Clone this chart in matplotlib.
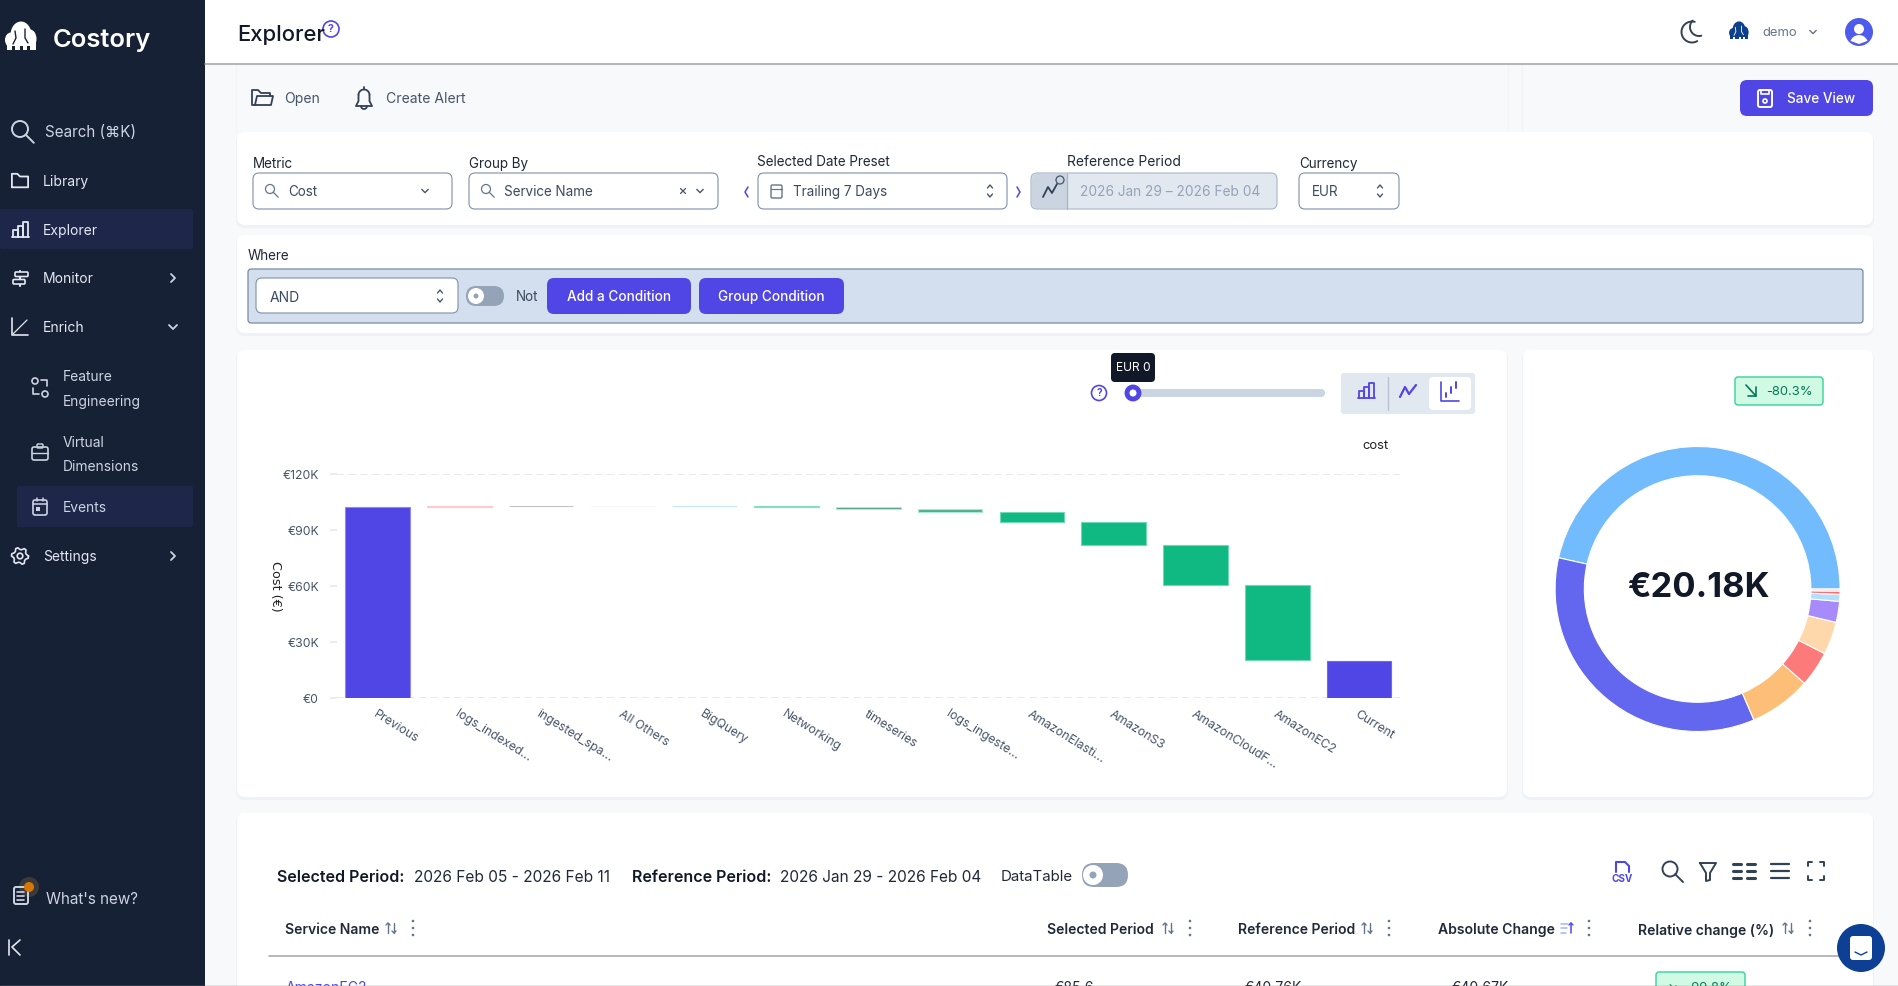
#!/usr/bin/env python3
"""Costory Explorer page: waterfall of cost by service plus a donut of the current period."""

import matplotlib
matplotlib.use("Agg")
import matplotlib.pyplot as plt
import matplotlib.patches as mpatches
import numpy as np

plt.rcParams["font.family"] = ["Inter", "DejaVu Sans"]

W, H = 1898, 986
INDIGO = "#4f46e5"
SIDEBAR = "#172136"
HILITE = "#1e2749"
SLATE = "#475569"
INK = "#1f2937"

# waterfall, in thousands of euro
categories = ["Previous", "logs_indexed...", "ingested_spa...", "All Others", "BigQuery",
              "Networking", "timeseries", "logs_ingeste...", "AmazonElasti...", "AmazonS3",
              "AmazonCloudF...", "AmazonEC2", "Current"]
previous_total = 102.6
changes = [0.5, 0.1, -0.1, -0.4, -0.4, -1.2, -1.1, -5.7, -12.2, -21.4, -40.5]
current_total = 20.18
bar_colors = ["#4f46e5", "#fecaca", "#a8a8a8", "#f3f4f6", "#b4e6e6", "#5fd8b0", "#4f9f86",
              "#4fae90", "#10b981", "#10b981", "#10b981", "#10b981", "#4f46e5"]
bar_edges = ["#8f8af0", "#fecaca", "#c4c4c4", "#f7f7f7", "#c4ecec", "#7fe0c0", "#a7ecd3",
             "#a7ecd3", "#6fd9b5", "#6fd9b5", "#6fd9b5", "#6fd9b5", "#6f68ec"]
y_ticks = [0, 30, 60, 90, 120]
y_tick_labels = ["€0", "€30K", "€60K", "€90K", "€120K"]

# donut, euro per service in the selected period
donut_values = [9380, 7060, 1420, 810, 750, 480, 160, 70, 50]
donut_colors = ["#72bbfd", "#6366ee", "#fdbf77", "#fd7a7a", "#fed7aa", "#a78bfa", "#b5defc", "#f87171", "#fbcfcf"]

# sidebar
nav_items = [("Library", 181), ("Explorer", 230), ("Monitor", 278), ("Enrich", 327), ("Settings", 556)]
sub_items = [("Feature", 376), ("Engineering", 401), ("Virtual", 442), ("Dimensions", 466), ("Events", 507)]

# table
table_headers = [("Selected Period", 1047, 1168, 1190), ("Reference Period", 1238, 1367, 1389),
                 ("Absolute Change", 1438, 1567, 1589), ("Relative change (%)", 1638, 1788, 1810)]
first_row = [("€85.6", 1055), ("€40.76K", 1245), ("€40.67K", 1452)]

fig = plt.figure(figsize=(W / 100, H / 100), dpi=100, facecolor="#f8f9fb")
ui = fig.add_axes([0, 0, 1, 1], zorder=1)
ui.set_xlim(0, W)
ui.set_ylim(H, 0)
ui.axis("off")


def txt(x, y, s, px=14, c=INK, ha="left", va="center", w="normal", **kw):
    # 1.3 px nudge, va=center sits a bit high compared with the browser
    return ui.text(x, y + 1.3, s, fontsize=px * 0.72, color=c, ha=ha, va=va, fontweight=w, zorder=6, **kw)


def box(x0, y0, x1, y1, fc="white", ec="none", r=6, lw=1.0, z=2):
    p = mpatches.FancyBboxPatch((x0, y0), x1 - x0, y1 - y0, boxstyle=f"round,pad=0,rounding_size={r}",
                                facecolor=fc, edgecolor=ec, linewidth=lw, zorder=z)
    ui.add_patch(p)


def card(x0, y0, x1, y1):
    box(x0 - 1, y0 + 1, x1 + 1, y1 + 3, fc="#eef1f5", r=9, z=1.5)
    box(x0, y0, x1, y1, r=8, z=2)


def ln(xs, ys, c=SLATE, lw=1.3, z=5):
    ui.plot(xs, ys, color=c, lw=lw, solid_capstyle="round", solid_joinstyle="round", zorder=z)


def circ(x, y, r, fc="none", ec="none", lw=1.3, z=5):
    ui.add_patch(mpatches.Circle((x, y), r, facecolor=fc, edgecolor=ec, linewidth=lw, zorder=z))


def arc(x, y, r, a0, a1, c, lw=1.3):
    # angles in degrees, measured on screen (y points down)
    t = np.radians(np.linspace(a0, a1, 30))
    ln(x + r * np.cos(t), y + r * np.sin(t), c, lw)


def magnifier(x, y, r, c, lw=1.3):
    circ(x - 1, y - 1, r, ec=c, lw=lw)
    ln([x - 1 + r * 0.7, x + r * 1.6], [y - 1 + r * 0.7, y + r * 1.6], c, lw)


def chev_down(x, y, c=SLATE, s=3.2, lw=1.0):
    ln([x - s, x, x + s], [y - s / 2, y + s / 2, y - s / 2], c, lw)


def chev_right(x, y, c="#cbd5e1", s=4, lw=1.3):
    ln([x - s / 2, x + s / 2, x - s / 2], [y - s, y, y + s], c, lw)


def updown(x, y, c=SLATE):
    ln([x - 2.5, x, x + 2.5], [y - 3, y - 6, y - 3], c, 1.0)
    ln([x - 2.5, x, x + 2.5], [y + 3, y + 6, y + 3], c, 1.0)


def folder(x, y, c, lw=1.3, s=1.0):
    ln([x - 9 * s, x - 9 * s, x - 3 * s, x, x + 9 * s, x + 9 * s, x - 9 * s],
       [y + 7 * s, y - 8 * s, y - 8 * s, y - 5 * s, y - 5 * s, y + 7 * s, y + 7 * s], c, lw)


def open_folder(x, y, c):
    ln([x - 7, x - 10, x - 10, x - 4, x - 1, x + 8, x + 8], [y + 7, y + 7, y - 8, y - 8, y - 5, y - 5, y - 2], c, 1.3)
    ln([x - 7, x - 5, x + 11, x + 9, x - 7], [y + 7, y - 2, y - 2, y + 7, y + 7], c, 1.3)


def bars_icon(x, y, c, lw=1.3):
    for bx, top in [(-7, 0), (-2, -4), (3, -8)]:
        ln([x + bx, x + bx, x + bx + 5, x + bx + 5], [y + 7, y + top, y + top, y + 7], c, lw)
    ln([x - 8, x + 9], [y + 7, y + 7], c, lw)


def zigzag(x, y, c, lw=1.6):
    ln([x - 8, x - 3, x + 1, x + 8], [y + 6, y - 4, y + 3, y - 6], c, lw)


def wf_icon(x, y, c, lw=1.2):
    ln([x - 9, x - 9, x + 9], [y - 10, y + 9, y + 9], c, lw)
    ln([x - 4, x - 4], [y + 5, y + 1], c, 1.4)
    ln([x + 1, x + 1], [y + 1, y - 5], c, 1.4)
    ln([x + 6, x + 6], [y - 4, y - 10], c, 1.4)


def elephant(x, y, c, bg, s=1.0):
    # rough logo: dome head with two ears and three legs
    ui.add_patch(mpatches.Ellipse((x, y - 2 * s), 21 * s, 27 * s, facecolor=c, zorder=5))
    ui.add_patch(mpatches.Ellipse((x - 10 * s, y + 3 * s), 12 * s, 15 * s, facecolor=c, zorder=5))
    ui.add_patch(mpatches.Ellipse((x + 9 * s, y + 2 * s), 13 * s, 19 * s, facecolor=c, zorder=5))
    ln([x - 6 * s, x - 5 * s, x - 8 * s], [y - 6 * s, y + 1 * s, y + 7 * s], bg, 1.0 * s, z=5.5)
    ln([x + 4 * s, x + 4 * s, x + 7 * s], [y - 8 * s, y + 1 * s, y + 6 * s], bg, 1.0 * s, z=5.5)
    ui.add_patch(mpatches.Rectangle((x - 14 * s, y + 5 * s), 29 * s, 8 * s, facecolor=c, zorder=5))
    for dx in (-7.5, 1, 8):
        ui.add_patch(mpatches.Rectangle((x + (dx - 1.5) * s, y + 9 * s), 3 * s, 5 * s, facecolor=bg, zorder=5.5))


def help_icon(x, y, r=7):
    circ(x, y, r, ec=INDIGO, lw=1.2)
    ui.text(x, y, "?", fontsize=r * 0.95, color=INDIGO, ha="center", va="center", fontweight="bold", zorder=6)


def gear(x, y, c):
    t = np.radians(np.arange(0, 361, 15))
    rr = np.where(np.arange(len(t)) % 4 < 2, 8.5, 6.5)
    ln(x + rr * np.cos(t), y + rr * np.sin(t), c, 1.2)
    circ(x, y, 2.8, ec=c, lw=1.2)


# page background, sidebar, header
ui.add_patch(mpatches.Rectangle((205, 0), W - 205, 63, facecolor="white", zorder=1))
ui.add_patch(mpatches.Rectangle((0, 0), 205, H, facecolor=SIDEBAR, zorder=1))
ln([205, W], [63.5, 63.5], "#a3a3a3", 1.1, z=3)
ln([236.5, 236.5], [64, 132], "#f3f4f7", 1, z=1.2)
ln([1508, 1508], [64, 132], "#f3f4f7", 1, z=1.2)
ln([1522, 1522], [64, 132], "#f3f4f7", 1, z=1.2)

# sidebar
elephant(21, 37, "white", SIDEBAR)
txt(53, 39, "Costory", px=25.6, c="white", w="semibold")
magnifier(21, 130, 8, "#cbd5e1", 1.4)
txt(45, 131, "Search (⌘K)", px=15.2, c="#cbd5e1")
box(0, 209, 193, 249, fc=HILITE, r=2, z=2)
box(17, 486, 193, 527, fc=HILITE, r=2, z=2)
for label, y in nav_items:
    txt(43, y, label, px=13.9, c="#e2e8f0")
for label, y in sub_items:
    txt(63, y, label, px=13.8, c="#cbd5e1")
folder(20, 181, "#e2e8f0", 1.3, 0.9)
bars_icon(20, 230, "#e2e8f0")
ln([20, 20], [271, 286], "#e2e8f0", 1.5)
box(15, 272, 28, 276.5, fc=SIDEBAR, ec="#e2e8f0", r=1, lw=1.2, z=5.2)
box(13, 279.5, 25, 284, fc=SIDEBAR, ec="#e2e8f0", r=1, lw=1.2, z=5.2)
ln([12, 12, 28], [318, 335, 335], "#e2e8f0", 1.2)
ln([13, 27], [334, 320], "#e2e8f0", 0.9)
circ(35, 381, 3, ec="#cbd5e1", lw=1.2)
circ(45, 394, 3, ec="#cbd5e1", lw=1.2)
ln([41, 47, 47], [380, 380, 386], "#cbd5e1", 1.2)
ln([33, 33, 39], [388, 394, 394], "#cbd5e1", 1.2)
box(32, 447, 48, 460, fc="none", ec="#cbd5e1", r=2, lw=1.2, z=5)
box(37, 444, 43, 448, fc="none", ec="#cbd5e1", r=1, lw=1.0, z=5)
ln([32, 48], [453, 453], "#cbd5e1", 1.0)
box(33, 500, 47, 515, fc="none", ec="#cbd5e1", r=2, lw=1.2, z=5)
ln([33, 47], [504, 504], "#cbd5e1", 1.1)
ln([37, 37], [498, 501], "#cbd5e1", 1.1)
ln([43, 43], [498, 501], "#cbd5e1", 1.1)
ui.add_patch(mpatches.Rectangle((36, 507), 4, 4, facecolor="#cbd5e1", zorder=5))
gear(20, 556, "#e2e8f0")
chev_right(173, 278)
chev_right(173, 556)
chev_down(173, 327, "#cbd5e1", 4, 1.3)
box(14, 887, 28, 904, fc="none", ec="#cbd5e1", r=2, lw=1.4, z=5)
for y in (892, 896, 900):
    ln([17, 24], [y, y], "#cbd5e1", 1.2)
circ(29, 887, 10, fc="#3a3a3a", z=4.5)
circ(29, 887, 5, fc="#d97706", z=5.5)
txt(46, 898, "What's new?", px=15.2, c="#cbd5e1")
ln([9, 9], [940, 955], "#e2e8f0", 1.2)
ln([20, 12, 20], [940, 947, 955], "#e2e8f0", 1.2)

# header
txt(237, 33.5, "Explorer", px=22, c="#111827", w="medium")
help_icon(331, 29, 8)
arc(1692, 32, 10.5, 60, 285, "#334155", 1.4)
arc(1699, 27, 9, 75, 225, "#334155", 1.4)
elephant(1739, 31, "#0e3f8c", "white", s=0.62)
txt(1762, 32, "demo", px=13, c="#64748b")
chev_down(1813, 32, "#64748b")
circ(1859, 32, 14, fc="#4f5bec")
circ(1859, 29, 5, fc="white")
ui.add_patch(mpatches.Wedge((1859, 44), 9, 200, 340, facecolor="white", zorder=5.5))

# toolbar
open_folder(262, 98, "#334155")
txt(284, 98, "Open", px=14, c=SLATE)
arc(364, 95, 5.5, 180, 360, "#334155", 1.3)
ln([358.5, 358.5, 356, 372, 369.5, 369.5], [95, 101, 106, 106, 101, 95], "#334155", 1.3)
arc(364, 106, 3, 0, 180, "#334155", 1.3)
ln([364, 364], [87, 89], "#334155", 1.3)
txt(386, 98, "Create Alert", px=14, c=SLATE)
box(1740, 80, 1873, 116, fc=INDIGO, r=7)
box(1758, 90, 1772, 107, fc="none", ec="white", r=2, lw=1.4, z=5)
ln([1761, 1761, 1769, 1769], [90, 94, 94, 90], "white", 1.2)
circ(1765, 101, 2, ec="white", lw=1.2)
txt(1787, 98, "Save View", px=13.6, c="white", w="medium")

# filter card
card(237, 132, 1873, 225)
for label, x, y, px in [("Metric", 253, 163, 13.5), ("Group By", 469, 163, 13.5),
                        ("Selected Date Preset", 757, 161, 13.5),
                        ("Reference Period", 1067, 161, 13.8), ("Currency", 1299, 163, 13.5)]:
    txt(x, y, label, px=px, c="#1f2937")
BORDER = "#7f90a8"
TXT2 = "#3b4a5f"
box(253, 173, 452, 209, ec=BORDER, lw=0.8, z=3)
magnifier(271, 190, 4.5, "#64748b", 0.9)
txt(288, 191, "Cost", px=13.5, c=TXT2)
chev_down(425, 191)
box(469, 173, 718, 209, ec=BORDER, lw=0.8, z=3)
magnifier(487, 190, 4.5, "#64748b", 0.9)
txt(504, 191, "Service Name", px=13.5, c=TXT2)
ln([680.5, 685.5], [188.5, 193.5], SLATE, 0.9)
ln([685.5, 680.5], [188.5, 193.5], SLATE, 0.9)
chev_down(700, 191)
ln([748, 745, 748], [187, 192, 197], INDIGO, 1.1)
box(758, 173, 1007, 209, ec=BORDER, lw=0.8, z=3)
box(771, 185, 782, 198, fc="none", ec="#64748b", r=1.5, lw=1.0, z=5)
ln([771, 782], [189, 189], "#64748b", 0.9)
txt(793, 191, "Trailing 7 Days", px=13.5, c=TXT2)
updown(990, 191)
ln([1017, 1020, 1017], [187, 192, 197], INDIGO, 1.1)
box(1031, 173, 1277, 209, fc="#e2e8f0", ec="#a9b6c7", lw=0.8, z=3)
box(1032, 174, 1067, 208, fc="#cbd5e1", r=5, z=3.5)
ui.add_patch(mpatches.Rectangle((1055, 174), 12, 34, facecolor="#cbd5e1", zorder=3.6))
ln([1067, 1067], [173, 209], "#a9b6c7", 1.0, z=3.7)
ln([1043, 1048, 1052, 1057], [197, 187, 193, 184], "#334155", 1.3)
circ(1060, 180, 4, ec="#475569", lw=0.9)
txt(1080, 191, "2026 Jan 29 – 2026 Feb 04", px=13.7, c="#94a3b8")
box(1299, 173, 1399, 209, ec=BORDER, lw=0.8, z=3)
txt(1312, 191, "EUR", px=13.5, c=TXT2)
updown(1380, 191)

# where card
card(237, 235, 1873, 333)
txt(248, 255, "Where", px=13.5, c="#1f2937")
box(248, 269, 1863, 323, fc="#d3dfef", ec="#6b7f99", r=3, lw=0.8, z=3)
box(256, 278, 458, 313, ec=BORDER, r=6, lw=0.8, z=4)
txt(270, 297, "AND", px=14, c=TXT2)
updown(440, 296)
box(466, 286, 504, 306, fc="#94a3b8", r=10, z=4)
circ(476, 296, 8, fc="white")
circ(476, 296, 2.5, fc="#94a3b8", z=5.5)
txt(516, 296, "Not", px=13.5, c=TXT2)
box(547, 278, 691, 314, fc=INDIGO, r=7, z=4)
txt(619, 296, "Add a Condition", px=13.6, c="white", ha="center", w="medium")
box(699, 278, 844, 314, fc=INDIGO, r=7, z=4)
txt(771.5, 296, "Group Condition", px=13.6, c="white", ha="center", w="medium")

# chart cards
card(237, 350, 1507, 797)
card(1523, 350, 1873, 797)
box(1111, 353, 1155, 382, fc="#111827", r=4, z=4)
txt(1133, 367, "EUR 0", px=12, c="white", ha="center")
help_icon(1099, 393, 7.5)
box(1133, 389, 1325, 397, fc="#cbd5e1", r=4, z=3)
circ(1133, 393, 6, fc="white", ec=INDIGO, lw=3.5)
box(1341, 373, 1475, 414, fc="#e2e8f0", r=3, z=3)
box(1429, 377, 1471, 410, fc="white", r=4, z=3.5)
ln([1388, 1388], [377, 410], "#b6c0cf", 0.9)
bars_icon(1366, 391, INDIGO)
zigzag(1408, 391, INDIGO)
wf_icon(1450, 392, INDIGO)
txt(1376, 445, "cost", px=13, c="#222222", ha="center")

box(1735, 377, 1823, 405, fc="#d1fae5", ec="#34d399", r=3, z=3)
ln([1746, 1756], [385, 396], "#047857", 1.2)
ln([1756, 1756, 1748], [387, 396, 396], "#047857", 1.2)
txt(1766, 391, "-80.3%", px=13, c="#047857")

# table card
card(237, 813, 1873, 1000)
txt(277, 876, "Selected Period:", px=16, c="#111827", w="semibold")
txt(414.5, 876, "2026 Feb 05 - 2026 Feb 11", px=15.5, c="#1f2937")
txt(632, 876, "Reference Period:", px=16, c="#111827", w="semibold")
txt(780.5, 876, "2026 Jan 29 - 2026 Feb 04", px=15.4, c="#1f2937")
txt(1001, 876, "DataTable", px=15, c="#1f2937")
box(1082, 863, 1128, 887, fc="#94a3b8", r=12, z=4)
circ(1093, 875, 10, fc="white")
circ(1093, 875, 3.5, fc="#94a3b8", z=5.5)

# csv, search, filter, columns, density, fullscreen
ln([1616, 1616, 1625, 1629, 1629], [872, 862, 862, 866, 872], INDIGO, 1.5)
txt(1622, 878, "CSV", px=10, c=INDIGO, ha="center", w="bold")
magnifier(1671, 870, 7.5, "#334155", 1.4)
ln([1700, 1716, 1710, 1710, 1706, 1706, 1700], [863, 863, 873, 880, 881, 873, 863], "#334155", 1.4)
for y in (864, 871, 878):
    ln([1733, 1741], [y, y], "#334155", 2.2)
    ln([1747, 1755], [y, y], "#334155", 2.2)
    ln([1771, 1789], [y, y], "#334155", 1.6)
for sx, sy in [(1808, 862), (1824, 862), (1808, 880), (1824, 880)]:
    dx = 4 if sx < 1816 else -4
    dy = 4 if sy < 870 else -4
    ln([sx + dx, sx, sx], [sy, sy, sy + dy], "#334155", 1.4)


def sort_icon(x, c="#64748b"):
    ln([x - 3, x - 3], [923, 933], c, 1.0)
    ln([x - 5, x - 3, x - 1], [925, 923, 925], c, 1.0)
    ln([x + 3, x + 3], [923, 933], c, 1.0)
    ln([x + 1, x + 3, x + 5], [931, 933, 931], c, 1.0)


def sorted_icon(x, c="#a5b4fc"):
    ln([x - 6, x + 1], [923.5, 923.5], c, 1.1)
    ln([x - 6, x], [928, 928], c, 1.1)
    ln([x - 6, x - 1], [932.5, 932.5], c, 1.1)
    ln([x + 4, x + 4], [923, 933], INDIGO, 1.1)
    ln([x + 2, x + 4, x + 6], [925, 923, 925], INDIGO, 1.0)


def kebab(x):
    for y in (921, 928, 935):
        circ(x, y, 1.3, fc="#64748b")


txt(285, 927.5, "Service Name", px=14, c="#1f2937", w="semibold", va="center_baseline")
sort_icon(391)
kebab(413)
for label, x, sort_x, keb_x in table_headers:
    txt(x, 927.5, label, px=14, c="#1f2937", w="semibold", va="center_baseline")
    if label == "Absolute Change":
        sorted_icon(sort_x)
    else:
        sort_icon(sort_x)
    kebab(keb_x)
ln([269, 1840], [955.5, 955.5], "#a3a3a3", 1.1, z=3)
txt(286, 987, "AmazonEC2", px=14, c=INDIGO)
for value, x in first_row:
    txt(x, 987, value, px=14, c="#1f2937")
box(1656, 972, 1745, 1000, fc="#d1fae5", ec="#34d399", r=3, z=3)
txt(1700, 987, "↘  -99.8%", px=13, c="#047857", ha="center")
ln([0, W], [985.5, 985.5], "#8a8a8a", 1.0, z=8)
circ(1861, 948, 24, fc="#0d3f94", z=7)
box(1850, 936, 1872, 960, fc="white", r=3, z=7.5)
ln([1855, 1861, 1867], [952, 955, 952], "#0d3f94", 1.0, z=8)

# waterfall chart
ends = np.concatenate([[previous_total], previous_total + np.cumsum(changes)])
starts = np.concatenate([[previous_total], ends[:-1]])
lows = np.concatenate([[0], np.minimum(starts[1:], ends[1:]), [0]])
highs = np.concatenate([[previous_total], np.maximum(starts[1:], ends[1:]), [current_total]])

ax_l, ax_r, ax_t, ax_b = 336.6, 1400, 474.2, 698.2
ax = fig.add_axes([ax_l / W, 1 - ax_b / H, (ax_r - ax_l) / W, (ax_b - ax_t) / H], zorder=3)
ax.patch.set_alpha(0)
x = np.arange(len(categories))
ax.axhline(0, color="#e5e7eb", lw=1.3, ls=(0, (4, 2.5)), zorder=1)
ax.axhline(120, color="#e5e7eb", lw=1.3, ls=(0, (4, 2.5)), zorder=1)
ax.bar(x, highs - lows, bottom=lows, width=0.79, color=bar_colors, edgecolor=bar_edges, linewidth=0.8, zorder=3)
ax.set_xlim(-0.5, 12.5)
ax.set_ylim(0, 120)
for s in ax.spines.values():
    s.set_visible(False)
ax.set_yticks(y_ticks, y_tick_labels)
ax.tick_params(axis="y", length=4.7, width=1.2, color="#e5e7eb", labelcolor=SLATE, labelsize=8.8, pad=8)
ax.set_xticks(x, categories, rotation=-32, ha="left", va="top", rotation_mode="anchor")
ax.tick_params(axis="x", length=0, labelcolor=SLATE, labelsize=8.8, pad=7)
ax.set_ylabel("Cost (€)", rotation=270, fontsize=9.2, color="#222222", family="DejaVu Sans")
ax.yaxis.set_label_coords((269 - ax_l) / (ax_r - ax_l), (ax_b - 586) / (ax_b - ax_t))

# donut
cx, cy, rad = 1697.6, 589, 142.5
dn = fig.add_axes([(cx - rad) / W, 1 - (cy + rad) / H, 2 * rad / W, 2 * rad / H], zorder=3)
dn.pie(donut_values, colors=donut_colors, startangle=0, counterclock=True, radius=1,
       wedgeprops={"width": 0.205, "edgecolor": "white", "linewidth": 0.8})
dn.set_xlim(-1, 1)
dn.set_ylim(-1, 1)
txt(1698, 587, "€20.18K", px=34.5, c="#111827", ha="center", w="bold")

fig.savefig("out.png", dpi=100, facecolor=fig.get_facecolor())
